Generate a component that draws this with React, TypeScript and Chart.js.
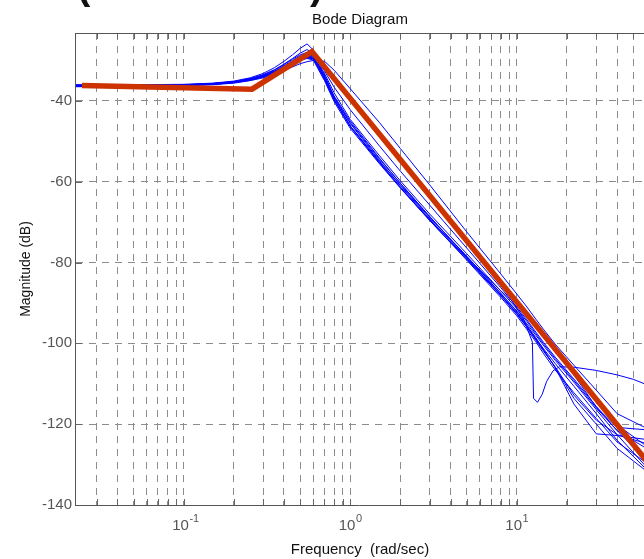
import React, { useEffect, useRef } from "react";
import { Chart, registerables } from "chart.js";

Chart.register(...registerables);

// ---------- data ----------
const FREQ = [0.0225, 0.05, 0.1, 0.15, 0.2, 0.25, 0.3, 0.35, 0.4, 0.45, 0.5, 0.55, 0.6, 0.7, 0.8, 1.0, 1.5, 2, 3, 5, 8, 10, 11.5, 13, 14.5, 17, 22, 30, 40, 60];

const MAG_A = [-36.0, -36.0, -35.9, -35.6, -35.1, -34.3, -33.2, -31.8, -30.2, -28.6, -27.0, -25.9, -27.4, -33.6, -38.8, -45.0, -54.2, -60.4, -68.6, -78.6, -87.6, -92.0, -95.2, -98.0, -100.6, -104.2, -109.6, -116.4, -122.6, -130.6];
const MAG_B = [-36.1, -36.1, -36.0, -35.7, -35.2, -34.5, -33.5, -32.3, -30.9, -29.5, -28.2, -27.3, -28.2, -34.0, -39.2, -45.6, -54.8, -61.0, -69.2, -79.0, -88.0, -92.6, -95.8, -98.8, -101.4, -105.0, -110.6, -117.4, -124.0, -131.2];
const MAG_D = [-36.3, -36.3, -36.1, -35.8, -35.4, -34.8, -34.0, -33.0, -31.9, -30.8, -29.8, -29.2, -29.4, -33.2, -38.0, -44.6, -53.6, -59.8, -68.0, -77.8, -87.0, -91.4, -94.6, -97.6, -100.2, -103.8, -109.2, -116.0, -121.6, -126.0];
const MAG_E = [-36.2, -36.2, -36.1, -35.8, -35.3, -34.6, -33.8, -32.7, -31.5, -30.3, -29.2, -28.6, -29.0, -34.4, -39.6, -46.2, -55.2, -61.4, -69.6, -79.4, -88.6, -93.2, -96.6, -99.6, -102.6, -106.6, -112.2, -118.6, -124.4, -129.6];
const MAG_G = [-36.4, -36.4, -36.2, -36.0, -35.6, -35.0, -34.3, -33.4, -32.5, -31.6, -30.8, -30.3, -30.0, -30.2, -32.4, -37.0, -45.4, -51.8, -60.8, -72.4, -82.8, -87.8, -91.0, -94.0, -96.6, -100.2, -105.4, -111.6, -117.4, -121.0];
const MAG_H = [-36.3, -36.3, -36.2, -35.9, -35.5, -34.8, -34.0, -33.0, -31.9, -30.8, -29.8, -29.3, -29.5, -31.4, -34.6, -39.6, -48.4, -54.8, -63.4, -74.8, -85.0, -89.8, -93.0, -95.8, -98.4, -102.0, -107.4, -114.2, -120.2, -125.4];
const MAG_I = [-36.5, -36.4, -36.2, -35.9, -35.5, -34.9, -34.1, -33.2, -32.1, -31.0, -30.0, -29.5, -29.9, -35.0, -40.2, -46.8, -55.6, -61.6, -69.6, -79.2, -88.2, -92.8, -96.0, -99.2, -102.0, -105.8, -112.8, -119.0, -122.6, -124.8];
const MAG_J = [-36.1, -36.1, -36.0, -35.7, -35.3, -34.6, -33.7, -32.6, -31.3, -30.0, -28.9, -28.2, -28.9, -34.0, -39.0, -45.4, -54.4, -60.4, -68.8, -78.4, -87.6, -92.2, -95.6, -98.6, -101.6, -106.0, -115.0, -122.4, -122.8, -123.8];
const MAG_K = [-36.2, -36.2, -36.0, -35.8, -35.3, -34.6, -33.6, -32.4, -31.0, -29.7, -28.6, -28.0, -28.6, -32.6, -36.6, -42.2, -51.2, -57.4, -65.8, -76.4, -86.2, -91.0, -94.2, -97.2, -99.8, -103.4, -108.8, -115.6, -121.6, -128.8];
const MAG_L = [-36.4, -36.3, -36.1, -35.8, -35.4, -34.7, -33.9, -32.9, -31.7, -30.5, -29.5, -29.0, -29.5, -34.6, -39.8, -46.4, -55.4, -61.4, -69.4, -78.8, -88.0, -92.6, -96.0, -99.0, -101.8, -106.0, -113.6, -120.0, -126.0, -131.6];
const MAG_M = [-36.2, -36.2, -36.1, -35.8, -35.4, -34.7, -33.8, -32.8, -31.6, -30.4, -29.4, -28.8, -29.2, -31.0, -34.0, -39.2, -48.0, -54.4, -63.0, -74.6, -84.6, -89.4, -92.6, -95.6, -98.2, -102.0, -107.8, -115.8, -120.8, -121.4];

const NOTCH_FREQ = [0.0225, 0.1, 0.2, 0.3, 0.4, 0.5, 0.55, 0.6, 0.7, 0.8, 1.0, 1.5, 2, 3, 5, 8, 9.3, 11, 12.4, 12.6, 13.3, 14.2, 15.1, 16.5, 18, 22, 30, 40, 50, 60];
const NOTCH_MAG = [-36.3, -36.1, -35.4, -34.0, -32.0, -29.9, -29.3, -29.6, -34.6, -39.6, -46.2, -55.0, -60.8, -68.8, -78.6, -87.0, -89.4, -94.0, -99.7, -113.6, -114.6, -112.6, -109.4, -106.8, -105.8, -105.9, -106.7, -107.8, -108.9, -110.2];

const RED_FREQ = [0.0245, 0.257, 0.589, 60];
const RED_MAG = [-36.2, -37.1, -27.8, -129.0];

const GRID_FREQ = [0.03, 0.04, 0.05, 0.06, 0.07, 0.08, 0.09, 0.1, 0.2, 0.3, 0.4, 0.5, 0.6, 0.7, 0.8, 0.9, 1, 2, 3, 4, 5, 6, 7, 8, 9, 10, 20, 30, 40, 50];
const Y_GRID = [-120, -100, -80, -60, -40];
const Y_TICKS = [-140, -120, -100, -80, -60, -40];
const X_MAJOR = [0.1, 1, 10];
const X_BASE = ["10", "10", "10"];
const X_EXP = ["-1", "0", "1"];

const TITLE = "Bode Diagram";
const X_LABEL = "Frequency  (rad/sec)";
const Y_LABEL = "Magnitude (dB)";

const BLUE_SERIES = [
  { f: FREQ, m: MAG_A }, { f: FREQ, m: MAG_B }, { f: FREQ, m: MAG_D },
  { f: FREQ, m: MAG_E }, { f: FREQ, m: MAG_G }, { f: FREQ, m: MAG_H },
  { f: FREQ, m: MAG_I }, { f: FREQ, m: MAG_J }, { f: FREQ, m: MAG_K },
  { f: FREQ, m: MAG_L }, { f: FREQ, m: MAG_M }, { f: NOTCH_FREQ, m: NOTCH_MAG },
];

const FONT = '"Liberation Sans", Arial, sans-serif';

const decor = {
  id: "decor",
  afterDatasetsDraw(chart: any) {
    const { ctx, chartArea: a, scales } = chart;
    const x = scales.x;
    const y = scales.y;
    ctx.save();
    ctx.lineWidth = 1;
    ctx.strokeStyle = "#666";
    ctx.beginPath();
    for (const f of GRID_FREQ) {
      const px = Math.round(x.getPixelForValue(f)) + 0.5;
      ctx.moveTo(px, a.bottom);
      ctx.lineTo(px, a.bottom - 6);
      ctx.moveTo(px, a.top);
      ctx.lineTo(px, a.top + 6);
    }
    for (const v of Y_TICKS) {
      const py = Math.round(y.getPixelForValue(v)) + 0.5;
      ctx.moveTo(a.left, py);
      ctx.lineTo(a.left + 6, py);
    }
    ctx.stroke();
    ctx.strokeStyle = "#555";
    ctx.beginPath();
    ctx.moveTo(a.left - 0.5, Math.round(a.top) + 0.5);
    ctx.lineTo(a.right, Math.round(a.top) + 0.5);
    ctx.moveTo(a.left - 0.5, a.top);
    ctx.lineTo(a.left - 0.5, a.bottom + 1);
    ctx.moveTo(a.left - 1, Math.round(a.bottom) + 0.5);
    ctx.lineTo(a.right, Math.round(a.bottom) + 0.5);
    ctx.stroke();
    ctx.restore();
  },
  afterDraw(chart: any) {
    const { ctx, chartArea: a, scales } = chart;
    const x = scales.x;
    const y = scales.y;
    ctx.save();
    // y tick labels
    ctx.fillStyle = "#555";
    ctx.font = `15px ${FONT}`;
    ctx.textAlign = "right";
    ctx.textBaseline = "middle";
    for (const v of Y_TICKS) {
      ctx.fillText(String(v), a.left - 4, y.getPixelForValue(v));
    }
    // x tick labels
    ctx.textAlign = "left";
    ctx.textBaseline = "alphabetic";
    X_MAJOR.forEach((v, i) => {
      const px = x.getPixelForValue(v);
      ctx.font = `15px ${FONT}`;
      const wb = ctx.measureText(X_BASE[i]).width;
      const start = px - 11.5;
      ctx.fillText(X_BASE[i], start, 530);
      ctx.font = `11px ${FONT}`;
      ctx.fillText(X_EXP[i], start + wb + 0.5, 522);
    });
    // title & axis labels
    ctx.fillStyle = "#111";
    ctx.font = `15px ${FONT}`;
    ctx.textAlign = "center";
    ctx.fillText(TITLE, (a.left + a.right) / 2, 24);
    ctx.fillText(X_LABEL, (a.left + a.right) / 2, 554);
    ctx.save();
    ctx.translate(26, (a.top + a.bottom) / 2);
    ctx.rotate(-Math.PI / 2);
    ctx.font = `14px ${FONT}`;
    ctx.textBaseline = "middle";
    ctx.fillText(Y_LABEL, 0, 0);
    ctx.restore();
    // cut-off parentheses of a larger heading above
    ctx.font = `bold 40px ${FONT}`;
    ctx.textAlign = "left";
    ctx.textBaseline = "alphabetic";
    ctx.fillText("(", 77, -1);
    ctx.fillText(")", 310, -1);
    ctx.restore();
  },
};

export default function App() {
  const ref = useRef<HTMLCanvasElement | null>(null);
  useEffect(() => {
    if (!ref.current) return;
    const datasets: any[] = [
      {
        data: RED_FREQ.map((f, i) => ({ x: f, y: RED_MAG[i] })),
        borderColor: "#cc3300",
        borderWidth: 5.5,
        borderJoinStyle: "miter",
        borderCapStyle: "butt",
        pointRadius: 0,
        tension: 0,
        fill: false,
        order: 0,
      },
      ...BLUE_SERIES.map((s) => ({
        data: s.f.map((f, i) => ({ x: f, y: s.m[i] })),
        borderColor: "#0000ff",
        borderWidth: 1,
        pointRadius: 0,
        tension: 0,
        fill: false,
        order: 1,
      })),
    ];
    const chart = new Chart(ref.current, {
      type: "line",
      data: { datasets },
      plugins: [decor],
      options: {
        animation: false,
        responsive: false,
        maintainAspectRatio: false,
        events: [],
        layout: { padding: { left: 76, top: 33, right: 0, bottom: 54 } },
        plugins: { legend: { display: false }, tooltip: { enabled: false }, title: { display: false } },
        scales: {
          x: {
            type: "logarithmic",
            min: 0.02256,
            max: 58,
            afterBuildTicks: (s: any) => {
              s.ticks = GRID_FREQ.map((v) => ({ value: v }));
            },
            afterFit: (s: any) => {
              s.height = 0;
            },
            ticks: { display: false },
            grid: { color: "#8c8c8c", lineWidth: 1, drawTicks: false },
            border: { display: false, dash: [7, 6] },
          },
          y: {
            type: "linear",
            min: -140,
            max: -23.2,
            afterBuildTicks: (s: any) => {
              s.ticks = Y_GRID.map((v) => ({ value: v }));
            },
            afterFit: (s: any) => {
              s.width = 0;
            },
            ticks: { display: false },
            grid: { color: "#8c8c8c", lineWidth: 1, drawTicks: false },
            border: { display: false, dash: [7, 6] },
          },
        },
      } as any,
    });
    return () => chart.destroy();
  }, []);
  return (
    <div style={{ position: "fixed", left: 0, top: 0, width: 644, height: 559, background: "#fff" }}>
      <canvas ref={ref} width={644} height={559} style={{ display: "block" }} />
    </div>
  );
}
